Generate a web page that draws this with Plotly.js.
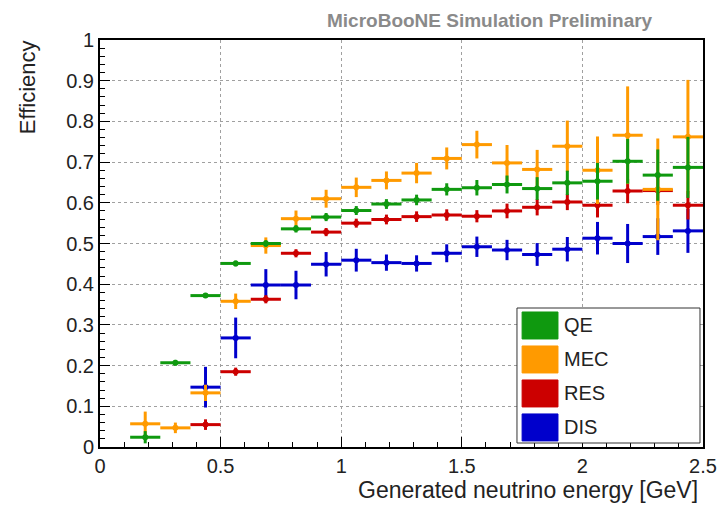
<!DOCTYPE html>
<html>
<head>
<meta charset="utf-8">
<script src="https://cdn.plot.ly/plotly-3.0.1.min.js"></script>
<style>html,body{margin:0;padding:0;background:#fff;}#chart{width:717px;height:505px;}</style>
</head>
<body>
<div id="chart"></div>
<script>
// Bin centres (GeV) and half bin width
const energy = [0.1875, 0.3125, 0.4375, 0.5625, 0.6875, 0.8125, 0.9375, 1.0625, 1.1875, 1.3125,
                1.4375, 1.5625, 1.6875, 1.8125, 1.9375, 2.0625, 2.1875, 2.3125, 2.4375];
const binHalfWidth = [0.0625, 0.0625, 0.0625, 0.0625, 0.0625, 0.0625, 0.0625, 0.0625, 0.0625, 0.0625,
                      0.0625, 0.0625, 0.0625, 0.0625, 0.0625, 0.0625, 0.0625, 0.0625, 0.0625];

const seriesNames = ["QE", "MEC", "RES", "DIS"];

const qeEff = [0.024, 0.207, 0.372, 0.451, 0.500, 0.536, 0.565, 0.581, 0.597, 0.607,
               0.633, 0.637, 0.645, 0.635, 0.649, 0.653, 0.702, 0.668, 0.687];
const qeErr = [0.015, 0.007, 0.006, 0.007, 0.008, 0.009, 0.010, 0.011, 0.012, 0.013,
               0.015, 0.019, 0.022, 0.028, 0.030, 0.045, 0.055, 0.063, 0.075];

const mecEff = [0.057, 0.047, 0.133, 0.358, 0.495, 0.561, 0.610, 0.638, 0.655, 0.673,
                0.709, 0.743, 0.698, 0.682, 0.739, 0.680, 0.766, 0.633, 0.762];
const mecErr = [0.030, 0.013, 0.020, 0.019, 0.020, 0.020, 0.022, 0.024, 0.022, 0.025,
                0.027, 0.034, 0.044, 0.048, 0.063, 0.083, 0.120, 0.125, 0.140];

const resEff = [null, null, 0.055, 0.185, 0.363, 0.476, 0.528, 0.550, 0.559, 0.566,
                0.570, 0.567, 0.580, 0.589, 0.602, 0.594, 0.629, 0.630, 0.594];
const resErr = [null, null, 0.013, 0.010, 0.010, 0.010, 0.010, 0.011, 0.012, 0.013,
                0.014, 0.015, 0.018, 0.020, 0.020, 0.030, 0.030, 0.035, 0.035];

const disEff = [null, null, 0.147, 0.268, 0.398, 0.398, 0.449, 0.459, 0.453, 0.451,
                0.476, 0.492, 0.484, 0.473, 0.486, 0.513, 0.500, 0.517, 0.531];
const disErr = [null, null, 0.050, 0.050, 0.039, 0.035, 0.030, 0.028, 0.020, 0.020,
                0.022, 0.025, 0.025, 0.028, 0.030, 0.040, 0.048, 0.045, 0.054];

const seriesColors = ["#0f990f", "#ff9a00", "#cc0000", "#0000cc"];
const seriesValues = [qeEff, mecEff, resEff, disEff];
const seriesErrors = [qeErr, mecErr, resErr, disErr];

function makeTrace(i) {
  return {
    type: "scatter",
    mode: "markers",
    name: seriesNames[i],
    x: energy,
    y: seriesValues[i],
    marker: {color: seriesColors[i], size: 6},
    error_x: {type: "data", array: binHalfWidth, visible: true, color: seriesColors[i], thickness: 3, width: 0},
    error_y: {type: "data", array: seriesErrors[i], visible: true, color: seriesColors[i], thickness: 3, width: 0},
    showlegend: false,
    hoverinfo: "x+y+name"
  };
}
// drawing order: DIS, RES, MEC, QE (QE on top)
const traces = [3, 2, 1, 0].map(makeTrace);

const font = "Liberation Sans, Arial, Helvetica, sans-serif";

// manual ROOT-style legend
const shapes = [{
  type: "rect", xref: "paper", yref: "paper",
  x0: 0.6915, x1: 0.995, y0: 0.0098, y1: 0.3415,
  line: {color: "#333", width: 1}, fillcolor: "#ffffff", layer: "above"
}];
const annotations = [];
const boxTop0 = 0.3317, step = 0.0835, boxH = 0.0663;
seriesNames.forEach((name, i) => {
  const top = boxTop0 - i * step;
  shapes.push({
    type: "rect", xref: "paper", yref: "paper",
    x0: 0.700, x1: 0.7595, y0: top - boxH, y1: top,
    line: {color: seriesColors[i], width: 1}, fillcolor: seriesColors[i], layer: "above"
  });
  annotations.push({
    xref: "paper", yref: "paper", x: 0.766, y: top - boxH / 2,
    xanchor: "left", yanchor: "middle", showarrow: false,
    text: name, font: {family: font, size: 20, color: "#222"}
  });
});

annotations.push({
  xref: "paper", yref: "paper", x: 0.647, y: 1.049, xanchor: "center", yanchor: "middle",
  showarrow: false, text: "<b>MicroBooNE Simulation Preliminary</b>",
  font: {family: font, size: 19, color: "#8a8a8a"}
});
annotations.push({
  xref: "paper", yref: "paper", x: 0.995, y: -0.106, xanchor: "right", yanchor: "middle",
  showarrow: false, text: "Generated neutrino energy [GeV]",
  font: {family: font, size: 23, color: "#222"}
});
annotations.push({
  xref: "paper", yref: "paper", x: -0.119, y: 1.005, xanchor: "center", yanchor: "top",
  showarrow: false, text: "Efficiency", textangle: -90,
  font: {family: font, size: 22, color: "#222"}
});

const layout = {
  width: 717, height: 505,
  margin: {l: 100, r: 14, t: 40, b: 58},
  paper_bgcolor: "#ffffff", plot_bgcolor: "#ffffff",
  showlegend: false,
  font: {family: font, size: 20, color: "#222"},
  xaxis: {
    range: [0, 2.5], dtick: 0.5, tick0: 0,
    ticks: "inside", ticklen: 10, tickwidth: 1, tickcolor: "#000",
    minor: {dtick: 0.1, ticks: "inside", ticklen: 5, tickcolor: "#000", showgrid: false},
    showline: true, linecolor: "#000", linewidth: 2, mirror: true,
    showgrid: true, gridcolor: "#a0a0a0", griddash: "dot", gridwidth: 1,
    zeroline: false,
    tickfont: {family: font, size: 20, color: "#222"}
  },
  yaxis: {
    range: [0, 1], dtick: 0.1, tick0: 0,
    ticks: "inside", ticklen: 10, tickwidth: 1, tickcolor: "#000",
    minor: {dtick: 0.02, ticks: "inside", ticklen: 5, tickcolor: "#000", showgrid: false},
    showline: true, linecolor: "#000", linewidth: 2, mirror: true,
    showgrid: true, gridcolor: "#a0a0a0", griddash: "dot", gridwidth: 1,
    zeroline: false,
    tickfont: {family: font, size: 20, color: "#222"}
  },
  shapes: shapes,
  annotations: annotations
};

Plotly.newPlot("chart", traces, layout, {displayModeBar: false, staticPlot: true});
</script>
</body>
</html>
